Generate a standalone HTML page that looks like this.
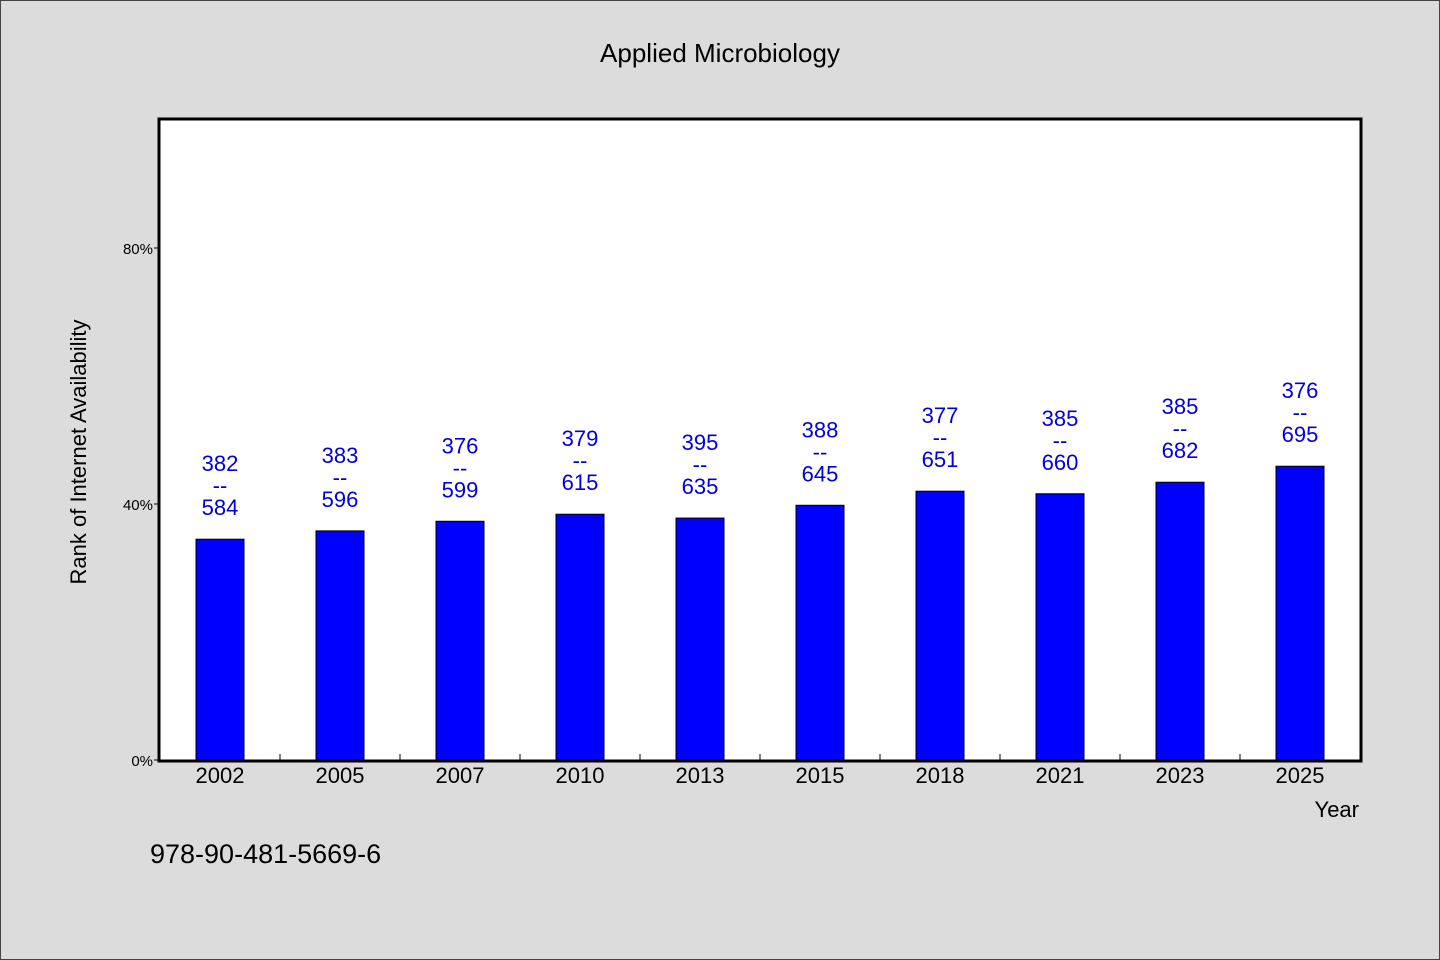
<!DOCTYPE html>
<html><head><meta charset="utf-8"><style>
html,body{margin:0;padding:0;background:#dcdcdc;}
svg{display:block;font-family:"WenQuanYi Zen Hei","Liberation Sans",sans-serif;}
</style></head><body>
<svg id="chart" width="1440" height="960" xmlns="http://www.w3.org/2000/svg">
<rect x="0.5" y="0.5" width="1439" height="959" fill="#dcdcdc" stroke="#444"/>
<text x="720" y="62" text-anchor="middle" font-size="26" fill="#000">Applied Microbiology</text>
<rect x="159" y="119" width="1202" height="642" fill="#fff" stroke="#000" stroke-width="3"/>
<g id="bars"></g>
<text x="86" y="452" text-anchor="middle" font-size="22" transform="rotate(-90 86 452)">Rank of Internet Availability</text>
<text x="1359" y="817" text-anchor="end" font-size="22">Year</text>
<text x="150" y="863" font-size="27">978-90-481-5669-6</text>
</svg>
<script>
const categories=["2002","2005","2007","2010","2013","2015","2018","2021","2023","2025"];
const values=[34.5,35.8,37.3,38.4,37.8,39.8,42.0,41.6,43.4,45.9];
const ranks=["382","383","376","379","395","388","377","385","385","376"];
const totals=["584","596","599","615","635","645","651","660","682","695"];
const yTicks=[0,40,80];
const NS="http://www.w3.org/2000/svg";
const svg=document.getElementById('chart'),g=document.getElementById('bars');
const x0=160,bw=120,y0=760,ppu=6.4;
const xs=i=>x0+bw*i+bw/2, ys=v=>y0-v*ppu;
function mk(t,a,p){const e=document.createElementNS(NS,t);for(const k in a)e.setAttribute(k,a[k]);(p||g).appendChild(e);return e;}
yTicks.forEach(v=>{
 const l=mk('line',{x1:154,x2:159,y1:ys(v),y2:ys(v),stroke:'#000'});
 
 
 const t=mk('text',{x:153,y:ys(v)+6,'text-anchor':'end','font-size':15});
 t.textContent=v+'%';
 
 
});
categories.forEach((c,i)=>{
 if(i>0){const tk=mk('line',{x1:x0+bw*i,x2:x0+bw*i,y1:760,y2:754,stroke:'#000'});
 
 }
 const top=ys(values[i]);
 const r=mk('rect',{x:xs(i)-24,y:top,width:48,height:y0-top,fill:'#0000ff',stroke:'#000'});
 
 
 const lab=[ranks[i],'--',totals[i]];
 lab.forEach((s,j)=>{
  const t=mk('text',{x:xs(i),y:top-68+j*22,'text-anchor':'middle','font-size':22,fill:'#0000dd'});
  t.textContent=s;
  
  
 });
 const xl=mk('text',{x:xs(i),y:783,'text-anchor':'middle','font-size':22});
 xl.textContent=c;
 
 
});
</script>
</body></html>
